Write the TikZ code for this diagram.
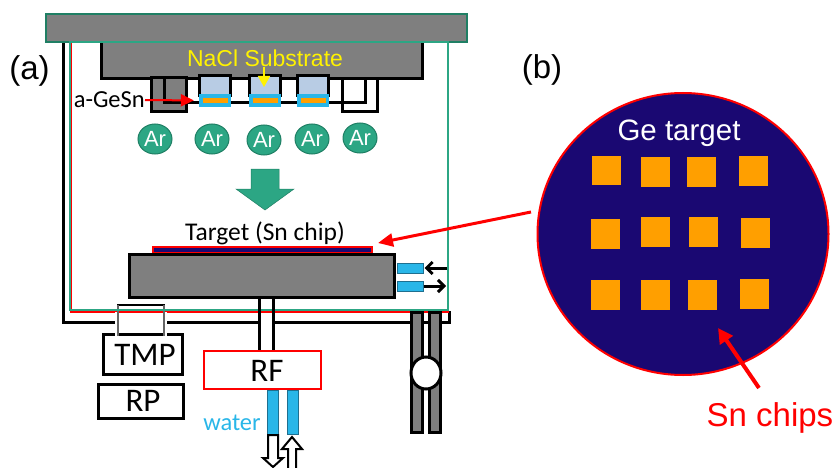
\documentclass[tikz,border=0pt]{standalone}
\usepackage{fontspec}
\setmainfont{Carlito}
\newfontfamily\arialfont{Liberation Sans}
\usetikzlibrary{arrows.meta, shapes.geometric}
\definecolor{metal}{HTML}{7F7F7F}
\definecolor{argon}{HTML}{2CA684}
\definecolor{argonline}{HTML}{1F7F64}
\definecolor{coolant}{HTML}{29B6E8}
\definecolor{coolline}{HTML}{1F6F8F}
\definecolor{glass}{HTML}{B8CCE4}
\definecolor{chip}{HTML}{FF9F00}
\definecolor{disc}{HTML}{1A0872}
\begin{document}
\begin{tikzpicture}[
    x=1pt, y=-1pt,
    box/.style={draw, line width=3pt, inner sep=0pt, align=center},
    block/.style={box, fill=metal},
    wall/.style={line width=3pt, line cap=butt, line join=miter},
    pipe/.style={draw=coolline, fill=coolant, line width=1pt, inner sep=0pt},
    ion/.style={ellipse, draw=argonline, fill=argon, line width=1pt, inner sep=0pt, minimum width=34pt, minimum height=30pt, text=white, font=\arialfont\fontsize{22}{24}\selectfont},
    chipbox/.style={fill=chip, inner sep=0pt, minimum width=29pt, minimum height=29.5pt},
    small/.style={font=\fontsize{24.5}{28}\selectfont, inner sep=0pt},
    big/.style={font=\fontsize{33}{36}\selectfont, inner sep=0pt},
    sans/.style={font=\arialfont\fontsize{33}{36}\selectfont, inner sep=0pt},
    redarrow/.style={draw=red, line width=4pt, -{Triangle[length=15pt, width=15pt]}},
    barb/.style={line width=3pt, -{Straight Barb[length=6pt, width=12pt]}, shorten >=1pt},
    hollow/.style={draw, fill=white, line width=2pt}
]
\useasboundingbox (0,0) rectangle (835,468);
% outer wall
\draw[wall] (63,43) -- (63,322) -- (115,322);
\draw[wall] (167,322) -- (259,322);
\draw[wall] (273,322) -- (449,322) -- (449,311);
% chamber and lid
\draw[red, line width=1.5pt] (71,43) -- (71,312) -- (448.5,312) -- (448.5,43);
\node[block, minimum width=321pt, minimum height=40pt] (holder) at (261.5,59) {};
\node[draw=argonline, fill=metal, line width=2pt, inner sep=0pt, minimum width=421pt, minimum height=28pt] (lid) at (256.5,28) {};
\draw[argon, line width=2pt] (70,42) rectangle (448,310);
% shutter
\node[block, minimum width=35pt, minimum height=34pt] (shutterA) at (168.5,95) {};
\draw[wall] (164,78) -- (164,103) -- (365,103) -- (365,78);
\draw[wall] (342,78) -- (342,112) -- (377,112) -- (377,78);
% samples
\foreach \i/\cx in {1/215,2/265,3/313}{
    \node[box, fill=glass, minimum width=31pt, minimum height=20pt] (glass\i) at (\cx,86) {};
    \node[fill=coolant, inner sep=0pt, minimum width=32pt, minimum height=13pt] (film\i) at (\cx,100.5) {};
    \node[fill=chip, inner sep=0pt, minimum width=25pt, minimum height=5pt] (core\i) at (\cx,100.5) {};
}
% argon ions
\foreach \i/\cx/\cy in {1/155/139,2/212/139,3/264/140,4/312/139,5/360/138}{
    \node[ion] (ar\i) at (\cx,\cy) {Ar};
}
\draw[draw=argonline, fill=argon, line width=0.5pt] (251,169) -- (279,169) -- (279,189) -- (294,189) -- (265,210) -- (236,189) -- (251,189) -- cycle;
% target
\node[fill=disc, draw=red, line width=2.5pt, inner sep=0pt, minimum width=219pt, minimum height=6pt] (target) at (262.5,250) {};
\node[block, minimum width=265pt, minimum height=43pt] (stage) at (262,276) {};
\node[small, font=\fontsize{25.5}{28}\selectfont] (targetlabel) at (265,233) {Target (Sn chip)};
% stage cooling
\node[pipe, minimum width=26pt, minimum height=10pt] (coolA) at (410,268) {};
\node[pipe, minimum width=26pt, minimum height=10pt] (coolB) at (410,286) {};
\coordinate (coolIn) at (447,268);
\coordinate (coolOut) at (447,286);
\draw[barb] (coolIn) -- (coolA.east);
\draw[barb] (coolB.east) -- (coolOut);
% pumps
\draw[line width=2pt] (117,305) -- (165,305);
\node[box, minimum width=79pt, minimum height=40pt] (tmp) at (142.5,354) {};
\node[big] (tmplabel) at (145,355) {TMP};
\node[box, minimum width=85pt, minimum height=34pt] (rp) at (141,401) {};
\node[big] (rplabel) at (143,401) {RP};
\foreach \cx in {116.5,165.5}{
    \draw[white, line width=3pt] (\cx,312) -- (\cx,336);
}
\foreach \cx in {118,164}{
    \draw[black!60, line width=1.2pt] (\cx,305) -- (\cx,336);
}
\draw[argon, line width=2pt] (110,310) -- (172,310);
% rf feed
\node[draw=red, line width=2pt, inner sep=0pt, minimum width=117pt, minimum height=38pt] (rf) at (262.5,370) {};
\node[big] (rflabel) at (267,371) {RF};
\coordinate (feedA) at (259.5,298);
\coordinate (feedB) at (273,298);
\draw[wall] (feedA) -- (feedA |- rf.north);
\draw[wall] (feedB) -- (feedB |- rf.north);
\node[pipe, minimum width=11pt, minimum height=44pt] (waterA) at (272.5,412) {};
\node[pipe, minimum width=11pt, minimum height=44pt] (waterB) at (292.5,412) {};
\node[small, text=coolant] (waterlabel) at (232,423) {water};
\draw[hollow] (268,435) -- (278,435) -- (278,458) -- (283,458) -- (273,467) -- (263,458) -- (268,458) -- cycle;
\draw[hollow] (288,469) -- (288,449) -- (282,449) -- (292,437) -- (302,449) -- (296,449) -- (296,469);
% exhaust with valve
\node[block, minimum width=11pt, minimum height=120pt] (exhaustA) at (416.5,372) {};
\node[block, minimum width=11pt, minimum height=120pt] (exhaustB) at (434.5,372) {};
\node[ellipse, box, fill=white, minimum width=30pt, minimum height=32pt] (valve) at (426,373) {};
% substrate labels
\node[sans, font=\arialfont\fontsize{23}{26}\selectfont, text=yellow] (nacl) at (265,58) {NaCl Substrate};
\coordinate (naclTip) at (264,87);
\coordinate (naclTail) at (264,67);
\draw[yellow, line width=1.5pt, -{Triangle[length=11pt, width=12pt]}] (naclTail) -- (naclTip);
\node[small, anchor=east] (agesn) at (145,100) {a-GeSn};
\draw[red, line width=2pt, -{Triangle[length=13pt, width=12pt]}, shorten >=5pt] (agesn.east) -- (film1.west);
% panel b
\node[sans] (panelA) at (29.5,71) {(a)};
\node[sans] (panelB) at (542,70) {(b)};
\node[ellipse, draw=red, fill=disc, line width=2pt, inner sep=0pt, minimum width=291pt, minimum height=282pt] (gedisc) at (683,234) {};
\node[sans, font=\arialfont\fontsize{29.5}{32}\selectfont, text=white] (gelabel) at (679,133) {Ge target};
\foreach \i/\cx/\cy in {1/606.5/170.5,2/655/172,3/701/172,4/753/171,5/605.5/234,6/655/232,7/703.5/232,8/755/233,9/605.5/295,10/655/295,11/702.5/295,12/754.5/294}{
    \node[chipbox] (chip\i) at (\cx,\cy) {};
}
\coordinate (discTail) at (531,212);
\coordinate (targetTip) at (378,243);
\draw[red, line width=3pt, -{Triangle[length=15pt, width=13pt]}] (discTail) -- (targetTip);
\node[sans, text=red] (snlabel) at (770,418) {Sn chips};
\coordinate (snTail) at (759,388);
\coordinate (snTip) at (718,328);
\draw[redarrow] (snTail) -- (snTip);
\end{tikzpicture}
\end{document}
